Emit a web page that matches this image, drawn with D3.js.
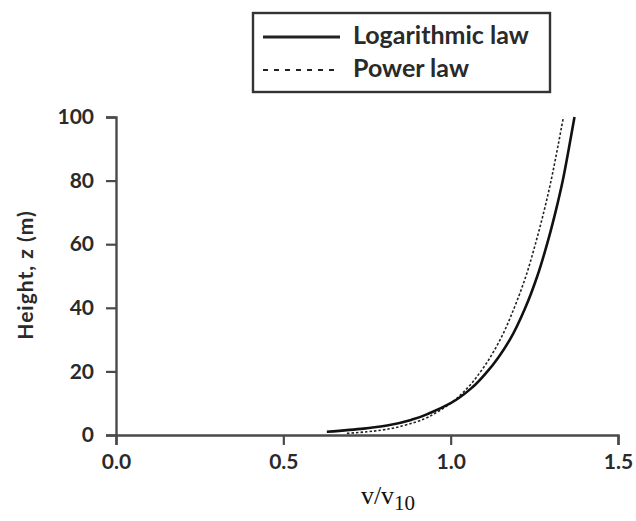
<!DOCTYPE html>
<html>
<head>
<meta charset="utf-8">
<script src="https://cdn.jsdelivr.net/npm/d3@7"></script>
<style>
  html, body { margin: 0; padding: 0; background: #fff; }
  svg { display: block; }
</style>
</head>
<body>
<svg id="chart" width="636" height="521"></svg>
<script>
// ---- data ----
const logHeights = [1, 2, 3, 5, 7, 10, 15, 20, 30, 40, 50, 60, 70, 80, 90, 100];
const logValues  = [0.63, 0.74, 0.81, 0.89, 0.94, 1.00, 1.065, 1.11, 1.177, 1.223, 1.259, 1.288, 1.313, 1.335, 1.353, 1.37];

const powHeights = [0.5, 1, 2, 3, 5, 7, 10, 15, 20, 30, 40, 50, 60, 70, 80, 90, 100];
const powValues  = [0.69, 0.75, 0.82, 0.86, 0.92, 0.956, 1.00, 1.052, 1.09, 1.148, 1.19, 1.225, 1.253, 1.278, 1.30, 1.319, 1.337];

const xTicks = [0, 0.5, 1.0, 1.5];
const yTicks = [0, 20, 40, 60, 80, 100];
const seriesNames = ["Logarithmic law", "Power law"];

// ---- drawing ----
const svg = d3.select("#chart");
const x = d3.scaleLinear().domain([0, 1.5]).range([116, 618]);
const y = d3.scaleLinear().domain([0, 100]).range([435, 117]);

const tickFont = "Lato, 'Open Sans', sans-serif";
const ink = "#2a2a2a";

const line = d3.line().x(d => x(d[0])).y(d => y(d[1])).curve(d3.curveMonotoneY);
const logData = logValues.map((v, i) => [v, logHeights[i]]);
const powData = powValues.map((v, i) => [v, powHeights[i]]);

// axes
const xAxis = d3.axisBottom(x).tickValues(xTicks).tickFormat(d3.format(".1f"))
  .tickSize(10).tickPadding(9);
const yAxis = d3.axisLeft(y).tickValues(yTicks).tickFormat(d3.format("d"))
  .tickSize(10).tickPadding(12);

const gx = svg.append("g").attr("transform", "translate(0,435)").call(xAxis);
const gy = svg.append("g").attr("transform", "translate(116,0)").call(yAxis);
[gx, gy].forEach(g => {
  g.selectAll("path.domain").attr("stroke", "#4a4a4a").attr("stroke-width", 2.4);
  g.selectAll(".tick line").attr("stroke", "#4a4a4a").attr("stroke-width", 2.2);
  g.selectAll(".tick text").attr("fill", ink)
    .style("font-family", tickFont).style("font-weight", "700").style("font-size", "21px");
});

svg.append("path").datum(powData)
  .attr("fill", "none").attr("stroke", "#222").attr("stroke-width", 1.6)
  .attr("stroke-dasharray", "2.5,2")
  .attr("d", line);
svg.append("path").datum(logData)
  .attr("fill", "none").attr("stroke", "#111").attr("stroke-width", 2.6)
  .attr("d", line);

// axis titles
svg.append("text")
  .attr("transform", "translate(33,275) rotate(-90)")
  .attr("text-anchor", "middle")
  .attr("fill", ink)
  .style("font-family", tickFont).style("font-weight", "700").style("font-size", "21px")
  .style("letter-spacing", "1px")
  .text("Height, z (m)");

const xt = svg.append("text")
  .attr("x", 388).attr("y", 504)
  .attr("text-anchor", "middle")
  .attr("fill", "#111")
  .style("font-family", "'Liberation Serif', 'Times New Roman', serif").style("font-size", "26px");
xt.append("tspan").text("v/v");
xt.append("tspan").attr("dy", 6).style("font-size", "21px").text("10");

// legend
const lg = svg.append("g");
lg.append("rect").attr("x", 253).attr("y", 13).attr("width", 297).attr("height", 79)
  .attr("fill", "#fff").attr("stroke", "#333").attr("stroke-width", 2.4);
const legendRows = [
  { name: seriesNames[0], yy: 37, width: 3.2, dash: null },
  { name: seriesNames[1], yy: 70, width: 1.8, dash: "5,6" }
];
legendRows.forEach(r => {
  lg.append("line").attr("x1", 263).attr("x2", 340).attr("y1", r.yy).attr("y2", r.yy)
    .attr("stroke", "#222").attr("stroke-width", r.width)
    .attr("stroke-dasharray", r.dash);
  lg.append("text").attr("x", 353).attr("y", r.yy + 7)
    .attr("fill", ink)
    .style("font-family", tickFont).style("font-weight", "700").style("font-size", "25px")
    .text(r.name);
});
</script>
</body>
</html>
